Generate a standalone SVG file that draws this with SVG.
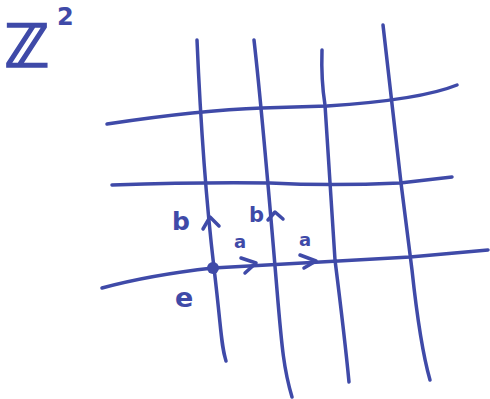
<svg xmlns="http://www.w3.org/2000/svg" width="490" height="399" viewBox="0 0 490 399">
<style>
.ln{fill:none;stroke:#3f4aa8;stroke-width:3.5;stroke-linecap:round;stroke-linejoin:round}
.ar{fill:none;stroke:#3f4aa8;stroke-width:3.5;stroke-linecap:round;stroke-linejoin:round}
.t{fill:#3f4aa8;font-family:"DejaVu Sans",sans-serif;font-weight:bold}
</style>
<rect width="490" height="399" fill="#ffffff"/>
<g id="title">
<text class="t" x="4" y="67" font-size="60" stroke="#3f4aa8" stroke-width="1.5">ℤ</text>
<text class="t" x="57" y="25" font-size="24">2</text>
</g>
<g id="lattice">
<path class="ln" d="M197,40 C200,110 206,200 214,268 S221,345 226,361"/>
<path class="ln" d="M254,40 C262,110 272,230 277,290 S284,370 292,397"/>
<path class="ln" d="M322,50 Q321,80 325,105 L335,260 Q345,340 349,382"/>
<path class="ln" d="M383,25 L401,183 L412,270 Q420,345 430,380"/>
<path class="ln" d="M107,124 Q200,110 262,108 L327,106 Q420,100 457,85"/>
<path class="ln" d="M112,185 Q200,182 270,183 Q330,186 400,183 L452,177"/>
<path class="ln" d="M102,288 Q150,275 213,268 L410,257 L488,250"/>
</g>
<g id="connectors">
<polyline class="ar" points="203,229 210,217 219,226"/>
<polyline class="ar" points="268,220 275,212 283,219"/>
<polyline class="ar" points="241,258 256,263 245,273"/>
<polyline class="ar" points="300,255 316,261 304,268"/>
</g>
<g id="node-e">
<circle cx="213" cy="268" r="6" fill="#3f4aa8"/>
<text class="t" x="175" y="307" font-size="27">e</text>
</g>
<g id="labels">
<text class="t" x="172" y="230" font-size="25">b</text>
<text class="t" x="249" y="222" font-size="21">b</text>
<text class="t" x="234" y="248" font-size="18">a</text>
<text class="t" x="299" y="246" font-size="18">a</text>
</g>
</svg>
